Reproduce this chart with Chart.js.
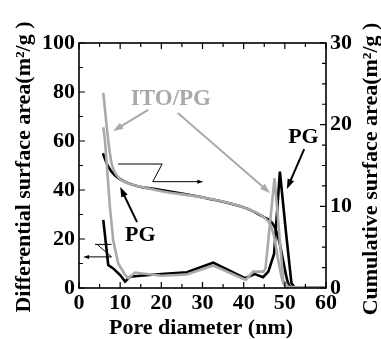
<!DOCTYPE html>
<html>
<head>
<meta charset="utf-8">
<script src="https://cdn.jsdelivr.net/npm/chart.js@4.4.0/dist/chart.umd.min.js"></script>
<style>
  html, body { margin: 0; padding: 0; background: #fff; }
  #wrap { width: 381px; height: 339px; }
</style>
</head>
<body>
<div id="wrap"><canvas id="poreChart" width="381" height="339"></canvas></div>
<script>
// PG - differential surface area (left axis, m2/g)
const pgDiffX = [5.9, 7.1, 8.3, 10, 11.2, 12.4, 13.6, 17, 20, 26.2, 32.6, 40.3, 42.7, 44.7, 46, 47.4, 48.8, 50.2, 51.6, 52.3, 55, 60];
const pgDiffY = [27.8, 9.4, 8, 5.3, 2.6, 4.6, 4.8, 5.3, 5.7, 6.4, 10.3, 4, 5.7, 4.4, 6.7, 14, 47.5, 24, 2, 0.3, 0.2, 0];

// ITO/PG - differential surface area (left axis)
const itoDiffX = [5.9, 6.3, 7.5, 8.3, 9.5, 11.2, 12, 13.6, 20, 26.2, 32.6, 40.5, 42.3, 44.8, 45.3, 47.5, 49.6, 50.8, 55, 60];
const itoDiffY = [65.6, 60.4, 33.2, 19.6, 10.1, 5.3, 4, 6.3, 5, 5.5, 9.2, 3.3, 6.7, 6.7, 8, 44.8, 3.3, 0.5, 0.2, 0];

// PG - cumulative surface area (right axis, m2/g)
const pgCumX = [5.8, 7.1, 8.7, 11.2, 14.8, 18.1, 31, 40.7, 44.8, 46.4, 47.6, 48.6, 49.6, 50.8, 52, 60];
const pgCumY = [16.5, 14.85, 13.8, 13, 12.4, 12.15, 11, 9.75, 8.7, 8.25, 7.4, 5.8, 3.3, 0.6, 0.06, 0];

// ITO/PG - cumulative surface area (right axis)
const itoCumX = [5.9, 7.1, 7.9, 9.5, 12, 15, 20, 31, 40.7, 44.8, 46.4, 47.4, 48.4, 49.6, 50.5, 52, 60];
const itoCumY = [23.9, 18.1, 15.3, 13.6, 12.8, 12.4, 11.85, 11, 9.75, 8.7, 7.8, 6.3, 3.4, 0.6, 0.1, 0, 0];

const xTicks = [0, 10, 20, 30, 40, 50, 60];

const serif = '"Liberation Serif", "Times New Roman", serif';
const grey = '#a9a9a9';

function toPoints(xs, ys) {
    return xs.map((x, i) => ({ x: x, y: ys[i] }));
}

function drawArrow(ctx, x1, y1, x2, y2, color, width, headLen, headW) {
    const ang = Math.atan2(y2 - y1, x2 - x1);
    ctx.strokeStyle = color;
    ctx.fillStyle = color;
    ctx.lineWidth = width;
    ctx.beginPath();
    ctx.moveTo(x1, y1);
    ctx.lineTo(x2 - Math.cos(ang) * headLen * 0.8, y2 - Math.sin(ang) * headLen * 0.8);
    ctx.stroke();
    ctx.beginPath();
    ctx.moveTo(x2, y2);
    ctx.lineTo(x2 - Math.cos(ang) * headLen - Math.sin(ang) * headW / 2,
               y2 - Math.sin(ang) * headLen + Math.cos(ang) * headW / 2);
    ctx.lineTo(x2 - Math.cos(ang) * headLen + Math.sin(ang) * headW / 2,
               y2 - Math.sin(ang) * headLen - Math.cos(ang) * headW / 2);
    ctx.closePath();
    ctx.fill();
}

// frame, inward ticks, labels and arrows
const framePlugin = {
    id: 'frameAndNotes',
    afterDraw(chart) {
        const ctx = chart.ctx;
        const a = chart.chartArea;
        const sx = chart.scales.x, sy = chart.scales.y, sy2 = chart.scales.y2;
        const X = v => sx.getPixelForValue(v);
        const Y = v => sy.getPixelForValue(v);

        ctx.save();
        ctx.strokeStyle = '#000';
        ctx.lineWidth = 1.6;
        ctx.strokeRect(a.left, a.top, a.right - a.left, a.bottom - a.top);

        ctx.lineWidth = 1.2;
        ctx.beginPath();
        for (let v = 0; v <= 60; v += 5) {
            const len = v % 10 === 0 ? 6 : 4;
            ctx.moveTo(X(v), a.bottom); ctx.lineTo(X(v), a.bottom - len);
            ctx.moveTo(X(v), a.top); ctx.lineTo(X(v), a.top + len);
        }
        for (let v = 0; v <= 100; v += 10) {
            const len = v % 20 === 0 ? 6 : 4;
            ctx.moveTo(a.left, Y(v)); ctx.lineTo(a.left + len, Y(v));
        }
        for (let v = 0; v <= 30; v += 2.5) {
            const py = sy2.getPixelForValue(v);
            const len = v % 10 === 0 ? 6 : 4;
            ctx.moveTo(a.right, py); ctx.lineTo(a.right - len, py);
        }
        ctx.stroke();

        // axis pointers (Z marks)
        ctx.lineWidth = 1;
        ctx.strokeStyle = '#000';
        ctx.beginPath();
        ctx.moveTo(X(9.5), Y(50.6)); ctx.lineTo(X(20.2), Y(50.6)); ctx.lineTo(X(17.9), Y(43.4));
        ctx.moveTo(X(3.9), Y(17.8)); ctx.lineTo(X(7.9), Y(17.8));
        ctx.moveTo(X(4.4), Y(17.8)); ctx.lineTo(X(7.9), Y(12.7));
        ctx.stroke();
        drawArrow(ctx, X(17.9), Y(43.4), X(30.2), Y(43.4), '#000', 1, 6, 4);
        drawArrow(ctx, X(7.9), Y(12.7), X(1.0), Y(12.7), '#000', 1, 6, 4);

        // label arrows
        drawArrow(ctx, X(16.8), Y(72.7), X(8.3), Y(64.1), grey, 2, 10, 7);
        drawArrow(ctx, X(24.0), Y(71.4), X(46.4), Y(38.8), grey, 2, 10, 7);
        drawArrow(ctx, X(14.1), Y(26.9), X(10.0), Y(41.2), '#000', 2, 10, 7);
        drawArrow(ctx, X(54.7), Y(56.7), X(50.5), Y(40.4), '#000', 2, 10, 7);

        ctx.textAlign = 'left';
        ctx.textBaseline = 'alphabetic';
        ctx.font = 'bold 23px ' + serif;
        ctx.fillStyle = grey;
        ctx.fillText('ITO/PG', X(12.6), Y(74.5));
        ctx.font = 'bold 22px ' + serif;
        ctx.fillStyle = '#000';
        ctx.fillText('PG', X(11.2), Y(19));
        ctx.fillText('PG', X(50.8), Y(59.3));

        // axis titles
        ctx.font = 'bold 22px ' + serif;
        ctx.textAlign = 'center';
        ctx.textBaseline = 'middle';
        ctx.fillText('Pore diameter (nm)', 201, 328);
        ctx.save();
        ctx.translate(24, 167);
        ctx.rotate(-Math.PI / 2);
        ctx.fillText('Differential surface area(m\u00B2/g )', 0, 0);
        ctx.restore();
        ctx.save();
        ctx.translate(371, 169);
        ctx.rotate(-Math.PI / 2);
        ctx.fillText('Cumulative surface area(m\u00B2/g )', 0, 0);
        ctx.restore();
        ctx.restore();
    }
};

const tickFont = { family: serif, size: 22, weight: 'bold' };

new Chart(document.getElementById('poreChart'), {
    type: 'line',
    data: {
        datasets: [
            { data: toPoints(itoCumX, itoCumY), yAxisID: 'y2', borderColor: grey, borderWidth: 2.6, cubicInterpolationMode: 'monotone' },
            { data: toPoints(itoDiffX, itoDiffY), yAxisID: 'y', borderColor: grey, borderWidth: 2.6 },
            { data: toPoints(pgCumX, pgCumY), yAxisID: 'y2', borderColor: '#000', borderWidth: 2.6, cubicInterpolationMode: 'monotone' },
            { data: toPoints(pgDiffX, pgDiffY), yAxisID: 'y', borderColor: '#000', borderWidth: 2.6 }
        ]
    },
    options: {
        responsive: false,
        animation: false,
        elements: { point: { radius: 0 }, line: { tension: 0 } },
        layout: { padding: { top: 43, left: 0, right: 0, bottom: 0 } },
        plugins: { legend: { display: false }, tooltip: { enabled: false } },
        scales: {
            x: {
                type: 'linear', min: 0, max: 60,
                afterFit: s => { s.height = 51; },
                afterBuildTicks: s => { s.ticks = xTicks.map(v => ({ value: v })); },
                grid: { display: false, drawTicks: false },
                border: { display: false },
                ticks: { font: tickFont, color: '#000', padding: 2, maxRotation: 0 }
            },
            y: {
                position: 'left', min: 0, max: 100,
                afterFit: s => { s.width = 79; },
                grid: { display: false, drawTicks: false },
                border: { display: false },
                ticks: { stepSize: 20, font: tickFont, color: '#000', padding: 4 }
            },
            y2: {
                position: 'right', min: 0, max: 30,
                afterFit: s => { s.width = 55; },
                grid: { display: false, drawTicks: false },
                border: { display: false },
                ticks: { stepSize: 10, font: tickFont, color: '#000', padding: 4 }
            }
        }
    },
    plugins: [framePlugin]
});
</script>
</body>
</html>
